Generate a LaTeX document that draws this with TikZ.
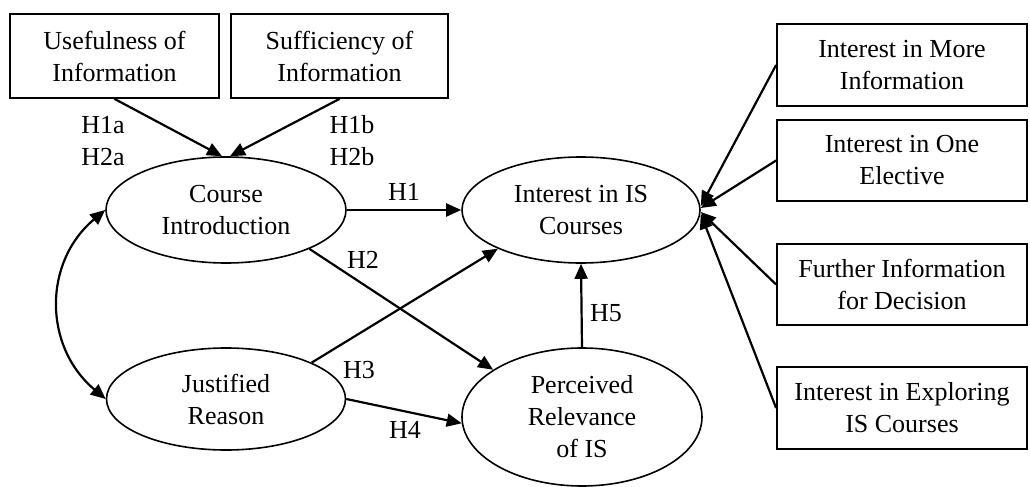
\documentclass[tikz,border=0pt]{standalone}
\usepackage{fontspec}
\setmainfont{Liberation Serif}
\usepackage{tikz}
\usetikzlibrary{positioning,arrows.meta,shapes.geometric}
\tikzset{
  latent/.style={draw,ellipse,line width=0.8pt,inner sep=0pt,align=center},
  indicator/.style={draw,rectangle,line width=0.9pt,inner sep=0pt,align=center},
  hlabel/.style={inner sep=0pt,align=left},
  link/.style={-{Triangle[length=7.5pt,width=6.5pt]},line width=1.1pt},
}

\begin{document}
\begin{tikzpicture}[x=0.5pt,y=-0.5pt,font=\fontsize{13}{16}\selectfont]
\useasboundingbox (0,0) rectangle (1030,487);
% antecedent boxes
\node[indicator,minimum width=104.5pt,minimum height=42pt] (useful) at (114.5,56) {Usefulness of\\Information};
\node[indicator,minimum width=108.5pt,minimum height=42pt] (suffic) at (339.5,56) {Sufficiency of\\Information};
% latent constructs
\node[latent,minimum width=120pt,minimum height=53pt] (course) at (226,210) {Course\\Introduction};
\node[latent,minimum width=119.5pt,minimum height=51pt] (reason) at (226,399) {Justified\\Reason};
\node[latent,minimum width=119pt,minimum height=53pt] (interest) at (581,210) {Interest in IS\\Courses};
\node[latent,minimum width=120pt,minimum height=69pt] (relev) at (582,417) {Perceived\\Relevance\\of IS};
% indicator boxes on the right
\node[indicator,minimum width=125pt,minimum height=41pt] (more) at (902,65) {Interest in More\\Information};
\node[indicator,minimum width=125pt,minimum height=40.5pt] (one) at (902,160.5) {Interest in One\\Elective};
\node[indicator,minimum width=125pt,minimum height=40.5pt] (further) at (902,284.5) {Further Information\\for Decision};
\node[indicator,minimum width=125pt,minimum height=41pt] (explore) at (902,408) {Interest in Exploring\\IS Courses};

% paths
\draw[link] (useful.south) -- ([xshift=-2pt]course.north);
\draw[link] (suffic.south) -- ([xshift=2pt]course.north);
\draw[link] (course.east) -- (interest.west);
\draw[link] (course.-25) -- (relev.152);
\draw[link] (reason.23) -- (interest.205);
\draw[link] (reason.east) -- (relev.183);
\draw[link] (relev.north) -- (interest.south);
\draw[{Triangle[length=7.5pt,width=6.5pt]}-{Triangle[length=7.5pt,width=6.5pt]},line width=1.1pt]
  (course.west) to[out=220,in=140,looseness=1.1] (reason.west);
\draw[link] (more.west) -- ([yshift=2pt]interest.east);
\draw[link] (one.west) -- ([yshift=1pt]interest.east);
\draw[link] (further.west) -- ([yshift=-1pt]interest.east);
\draw[link] (explore.west) -- ([yshift=-2pt]interest.east);

% hypothesis labels
\node[hlabel] (h1a) at (103,141) {H1a\\H2a};
\node[hlabel] (h1b) at (352,141) {H1b\\H2b};
\node[hlabel] (h1) at (404,192) {H1};
\node[hlabel] (h2) at (363,260) {H2};
\node[hlabel] (h3) at (359,370) {H3};
\node[hlabel] (h4) at (405,430) {H4};
\node[hlabel] (h5) at (606,313) {H5};
\end{tikzpicture}
\end{document}
